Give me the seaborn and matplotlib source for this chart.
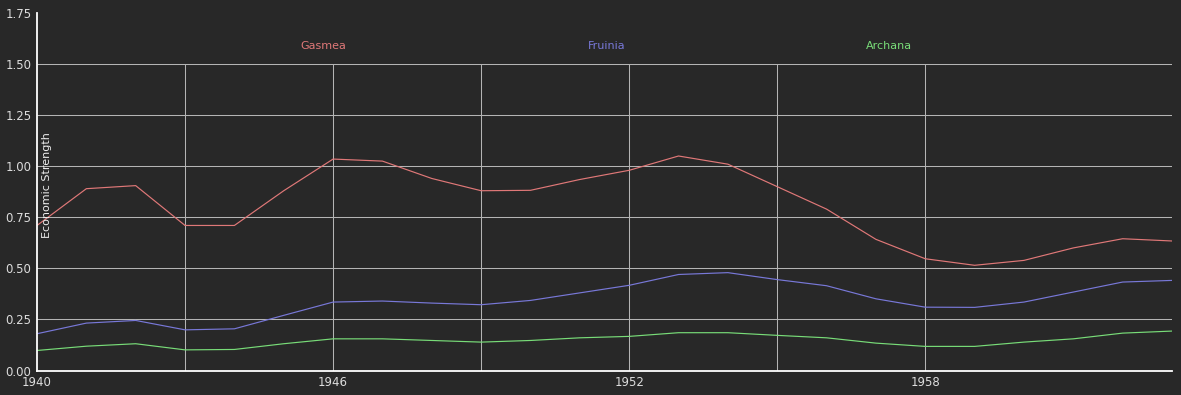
import numpy as np
import pandas as pd
import seaborn as sns
import matplotlib.pyplot as plt

# data
years = list(range(1940, 1964))
gasmea = [0.71, 0.89, 0.905, 0.71, 0.71, 0.88, 1.035, 1.025, 0.94, 0.88,
          0.882, 0.935, 0.98, 1.05, 1.01, 0.90, 0.79, 0.642, 0.547, 0.515,
          0.539, 0.60, 0.645, 0.634]
fruinia = [0.18, 0.232, 0.245, 0.199, 0.204, 0.27, 0.335, 0.34, 0.33, 0.322,
           0.343, 0.38, 0.417, 0.47, 0.479, 0.445, 0.415, 0.351, 0.31, 0.309,
           0.335, 0.384, 0.433, 0.441]
archana = [0.098, 0.119, 0.131, 0.101, 0.103, 0.131, 0.155, 0.155, 0.147, 0.139,
           0.147, 0.16, 0.167, 0.185, 0.185, 0.172, 0.16, 0.134, 0.118, 0.118,
           0.139, 0.155, 0.183, 0.193]
countries = ["Gasmea", "Fruinia", "Archana"]
colors = {"Gasmea": "#e07878", "Fruinia": "#7878d8", "Archana": "#78dc78"}

df = pd.DataFrame({
    "year": years * 3,
    "value": gasmea + fruinia + archana,
    "country": np.repeat(countries, len(years)),
})

bg = "#282828"
sns.set_style("dark", {"axes.facecolor": bg, "figure.facecolor": bg})
plt.rcParams['font.family'] = ['DejaVu Sans']

fig = plt.figure(figsize=(11.81, 3.95), dpi=100)
ax = fig.add_axes([37 / 1181, 1 - 370.5 / 395, (1172 - 37) / 1181, (370.5 - 13) / 395])

# grid: horizontal lines full width, vertical lines only up to 1.5
for yv in [0.25, 0.5, 0.75, 1.0, 1.25, 1.5]:
    ax.axhline(yv, color="#b4b4b4", lw=0.75, zorder=0)
ax.vlines([1943, 1946, 1949, 1952, 1955, 1958], 0, 1.5, color="#b4b4b4", lw=0.75, zorder=0)

sns.lineplot(data=df, x="year", y="value", hue="country", palette=colors,
             legend=False, lw=0.85, ax=ax)

ax.set_xlim(1940, 1963)
ax.set_ylim(0, 1.75)
ax.set_xticks([1940, 1946, 1952, 1958])
ax.set_yticks([0, 0.25, 0.5, 0.75, 1.0, 1.25, 1.5, 1.75])
ax.set_yticklabels(["0.00", "0.25", "0.50", "0.75", "1.00", "1.25", "1.50", "1.75"])
ax.tick_params(colors="#dddddd", labelsize=8.5, length=0, pad=4)
ax.set_xlabel("")
ax.set_ylabel("")

for side in ["top", "right"]:
    ax.spines[side].set_visible(False)
for side in ["left", "bottom"]:
    ax.spines[side].set_color("white")
    ax.spines[side].set_linewidth(1.3)

ax.text(0.004, 0.52, "Economic Strength", transform=ax.transAxes, rotation=90,
        ha="left", va="center", color="#eeeeee", fontsize=8)

for xf, name in zip([0.252, 0.502, 0.751], countries):
    ax.text(xf, 0.907, name, transform=ax.transAxes, ha="center", va="center",
            color=colors[name], fontsize=8)

fig.savefig("out.png", dpi=100, facecolor=bg)
